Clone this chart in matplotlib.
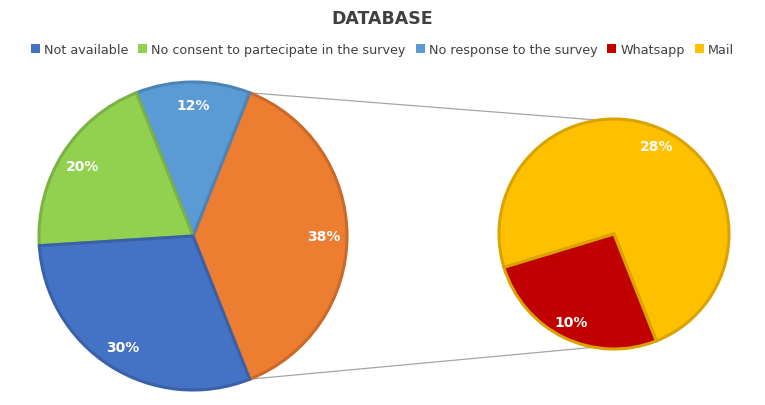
import matplotlib.pyplot as plt
import numpy as np
from matplotlib.patches import Patch
from matplotlib.colors import to_rgb

categories = ["Not available", "No consent to partecipate in the survey",
              "No response to the survey", "Whatsapp", "Mail"]
shares = [30, 20, 12, 10, 28]
colors = ["#4472C4", "#92D050", "#5B9BD5", "#C00000", "#FFC000"]
other_color = "#ED7D31"


def darker(c, f=0.85):
    r, g, b = to_rgb(c)
    return (r * f, g * f, b * f)


fig = plt.figure(figsize=(7.65, 4.06), dpi=100)
ax = fig.add_axes([0, 0, 1, 1])

# main pie: combined "other" slice (Whatsapp + Mail) first, centred on the right
other = shares[3] + shares[4]
main_vals = [other, shares[2], shares[1], shares[0]]
main_cols = [other_color, colors[2], colors[1], colors[0]]
start = -other / 100 * 360 / 2
wedges, texts, autotexts = ax.pie(
    main_vals, colors=main_cols, startangle=start, counterclock=True,
    center=(193, 169), radius=154, autopct="%d%%", pctdistance=0.85,
    wedgeprops=dict(linewidth=2.2), frame=True)
for w, c in zip(wedges, main_cols):
    w.set_edgecolor(darker(c))
for t in autotexts:
    t.set_color("white")
    t.set_fontweight("bold")
    t.set_fontsize(10)

# second pie: breakdown of the "other" slice
sub_vals = [shares[4], shares[3]]
sub_cols = [colors[4], colors[3]]
sub_labels = ["%d%%" % v for v in sub_vals]
w2, t2 = ax.pie(
    sub_vals, colors=sub_cols, startangle=start, counterclock=True,
    center=(614, 171), radius=115, labels=sub_labels, labeldistance=0.85,
    wedgeprops=dict(linewidth=2.2), frame=True)
for w in w2:
    w.set_edgecolor(darker(colors[4]))
for t in t2:
    t.set_color("white")
    t.set_fontweight("bold")
    t.set_fontsize(10)
    t.set_ha("center")
    t.set_va("center")

# connector lines
th1, th2 = np.deg2rad(wedges[0].theta1), np.deg2rad(wedges[0].theta2)
p_top = (193 + 154 * np.cos(th2), 169 + 154 * np.sin(th2))
p_bot = (193 + 154 * np.cos(th1), 169 + 154 * np.sin(th1))
q_top = (614 + 115 * np.cos(np.deg2rad(98)), 171 + 115 * np.sin(np.deg2rad(98)))
q_bot = (614 + 115 * np.cos(np.deg2rad(260)), 171 + 115 * np.sin(np.deg2rad(260)))
ax.plot([p_top[0], q_top[0]], [p_top[1], q_top[1]], color="#A6A6A6", lw=0.9, zorder=0)
ax.plot([p_bot[0], q_bot[0]], [p_bot[1], q_bot[1]], color="#A6A6A6", lw=0.9, zorder=0)

ax.set_xlim(0, 765)
ax.set_ylim(0, 406)
ax.set_aspect("equal")
ax.axis("off")

fig.text(0.5, 0.953, "DATABASE", ha="center", va="center",
         fontsize=12.5, fontweight="bold", color="#404040")

handles = [Patch(facecolor=c, edgecolor="none") for c in colors]
fig.legend(handles, categories, loc="center", bbox_to_anchor=(0.5, 0.875),
           ncol=5, frameon=False, fontsize=9.2, handlelength=0.7,
           handleheight=0.7, handletextpad=0.3, columnspacing=0.8,
           labelcolor="#404040", borderpad=0)

fig.savefig("out.png", dpi=100)
